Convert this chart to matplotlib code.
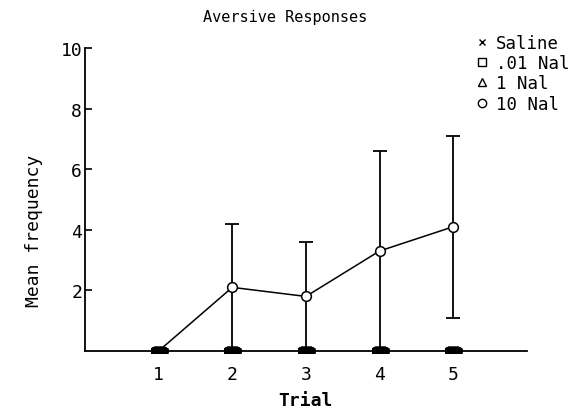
import numpy as np
import matplotlib.pyplot as plt

plt.rcParams['font.family'] = ['DejaVu Sans Mono']

trials = [1, 2, 3, 4, 5]
saline = [0, 0, 0, 0, 0]
nal_01 = [0, 0, 0, 0, 0]
nal_1 = [0, 0, 0, 0, 0]
nal_10 = [0, 2.1, 1.8, 3.3, 4.1]
nal_10_upper = [0, 4.2, 3.6, 6.6, 7.1]
nal_10_lower = [0, 0, 0, 0, 1.1]

fig = plt.figure(figsize=(5.72, 4.10), dpi=100)
ax = fig.add_axes([0.1486, 0.1415, 0.7724, 0.739])

mean = np.array(nal_10)
lo = mean - np.array(nal_10_lower)
hi = np.array(nal_10_upper) - mean
ax.errorbar(trials[1:], mean[1:], yerr=[lo[1:], hi[1:]], fmt='none',
            ecolor='black', elinewidth=1.3, capsize=5, capthick=1.3, clip_on=False)
# circle at trial 1 is hidden under the zero blob
ax.plot(trials, nal_10, color='black', lw=1.1, marker='o', ms=7, mfc='white',
        mec='black', mew=1.1, zorder=3, clip_on=False, markevery=[1, 2, 3, 4])

# the zero-valued groups overlap on the axis and print as a black blob
blob = [(-1, -0.2), (1, -0.2), (1, 0.3), (0.6, 0.5), (-0.6, 0.5), (-1, 0.3)]
for vals in [saline, nal_01, nal_1]:
    ax.plot(trials, vals, ls='none', marker=blob, ms=12, color='black',
            zorder=5, clip_on=False)

ax.set_xlim(0, 6)
ax.set_ylim(0, 10)
ax.set_xticks(trials)
ax.set_yticks([2, 4, 6, 8, 10])
ax.tick_params(axis='x', length=0, labelsize=13, pad=10)
ax.tick_params(axis='y', direction='in', length=5, width=1.2, labelsize=13, pad=2)
for s in ['top', 'right']:
    ax.spines[s].set_visible(False)
for s in ['left', 'bottom']:
    ax.spines[s].set_linewidth(1.3)

ax.set_xlabel('Trial', fontsize=13, fontweight='bold', labelpad=6)
ax.set_ylabel('Mean frequency', fontsize=13, labelpad=14)
ax.yaxis.set_label_coords(-0.095, 0.40)
fig.text(0.498, 0.958, 'Aversive Responses', ha='center', va='center', fontsize=11)

h = [
    plt.Line2D([], [], ls='none', marker='x', ms=5, color='black'),
    plt.Line2D([], [], ls='none', marker='s', ms=6, mfc='white', mec='black'),
    plt.Line2D([], [], ls='none', marker='^', ms=6, mfc='white', mec='black'),
    plt.Line2D([], [], ls='none', marker='o', ms=6, mfc='white', mec='black'),
]
fig.legend(h, ['Saline', '.01 Nal', '1 Nal', '10 Nal'], loc='upper left',
           bbox_to_anchor=(0.818, 0.935), frameon=False, fontsize=12.5,
           handlelength=0.6, handletextpad=0.5, labelspacing=0.12, borderpad=0)

fig.savefig('out.png', dpi=100)
